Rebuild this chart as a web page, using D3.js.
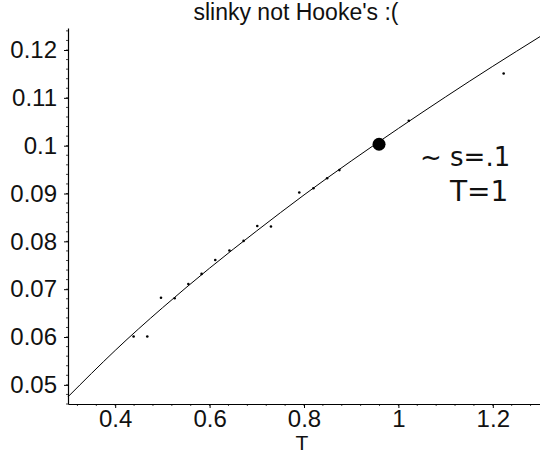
<!DOCTYPE html>
<html>
<head>
<meta charset="utf-8">
<script src="https://cdn.jsdelivr.net/npm/d3@7"></script>
<style>
  body { margin: 0; background: #fff; }
  text { font-family: "Liberation Sans", Arial, sans-serif; fill: #111; }
</style>
</head>
<body>
<div id="main"></div>
<script>
var ctx = {
    w: 540,
    h: 456,
    left: 68,
    right: 540,
    top: 28,
    bottom: 404
};

// measured points (T, s)
var pointT = [0.439, 0.468, 0.497, 0.526, 0.555, 0.583, 0.612, 0.642, 0.672, 0.701, 0.730,
              0.790, 0.820, 0.849, 0.875, 1.022, 1.223];
var pointS = [0.0601, 0.0601, 0.0682, 0.0681, 0.0711, 0.0732, 0.0761, 0.0781, 0.0801, 0.0832, 0.0831,
              0.0902, 0.0911, 0.0932, 0.0949, 0.1052, 0.1151];

// fitted curve
var curveT = [0.3, 0.4, 0.5, 0.6, 0.7, 0.8, 0.9, 1.0, 1.1, 1.2, 1.3];
var curveS = [0.0475, 0.0572, 0.0661, 0.0744, 0.0822, 0.0897, 0.0968, 0.1036, 0.1102, 0.1166, 0.1228];

// highlighted point
var markT = [0.959];
var markS = [0.1003];

var xTicks = [0.4, 0.6, 0.8, 1, 1.2];
var yTicks = [0.05, 0.06, 0.07, 0.08, 0.09, 0.1, 0.11, 0.12];

var svg = d3.select("#main").append("svg")
    .attr("width", ctx.w)
    .attr("height", ctx.h);

var x = d3.scaleLinear().domain([0.3, 1.3]).range([ctx.left, ctx.right]);
var y = d3.scaleLinear().domain([0.046, 0.1246]).range([ctx.bottom, ctx.top]);

// title
svg.append("text")
    .attr("x", 296).attr("y", 20)
    .attr("text-anchor", "middle")
    .style("font-size", "23px")
    .text("slinky not Hooke's :(");

// minor ticks
var xMinor = d3.range(0.32, 1.3, 0.04);
svg.append("g").selectAll("line").data(xMinor).enter().append("line")
    .attr("x1", function(d){ return x(d); }).attr("x2", function(d){ return x(d); })
    .attr("y1", ctx.bottom).attr("y2", ctx.bottom + 2)
    .attr("stroke", "#444").attr("stroke-width", 1);
var yMinor = d3.range(0.046, 0.1246, 0.002);
svg.append("g").selectAll("line").data(yMinor).enter().append("line")
    .attr("y1", function(d){ return y(d); }).attr("y2", function(d){ return y(d); })
    .attr("x1", ctx.left - 2).attr("x2", ctx.left)
    .attr("stroke", "#444").attr("stroke-width", 1);

// axes
var xAxis = svg.append("g")
    .attr("transform", "translate(0," + ctx.bottom + ")")
    .call(d3.axisBottom(x).tickValues(xTicks).tickSize(4).tickSizeOuter(0)
          .tickFormat(function(d){ return String(d); }));
var yAxis = svg.append("g")
    .attr("transform", "translate(" + ctx.left + ",0)")
    .call(d3.axisLeft(y).tickValues(yTicks).tickSize(4).tickSizeOuter(0)
          .tickFormat(function(d){ return String(d); }));

xAxis.select(".domain").attr("stroke", "#000").attr("stroke-width", 1.2);
yAxis.select(".domain").attr("stroke", "#000").attr("stroke-width", 1.2);
xAxis.selectAll("text").style("font-size", "24px").style("font-family", "Liberation Sans, Arial, sans-serif")
    .attr("dy", "0.71em").attr("y", 6).attr("fill", "#111");
yAxis.selectAll("text").style("font-size", "24px").style("font-family", "Liberation Sans, Arial, sans-serif")
    .attr("x", -11).attr("fill", "#111");

// x label
svg.append("text")
    .attr("x", 302).attr("y", 450)
    .attr("text-anchor", "middle")
    .style("font-size", "21px")
    .text("T");

// curve
var curveData = curveT.map(function(t, i){ return {t: t, s: curveS[i]}; });
svg.append("path")
    .datum(curveData)
    .attr("fill", "none")
    .attr("stroke", "#000")
    .attr("stroke-width", 1)
    .attr("d", d3.line()
        .x(function(d){ return x(d.t); })
        .y(function(d){ return y(d.s); })
        .curve(d3.curveNatural));

// data points
var pts = pointT.map(function(t, i){ return {t: t, s: pointS[i]}; });
svg.append("g").selectAll("circle").data(pts).enter().append("circle")
    .attr("cx", function(d){ return x(d.t); })
    .attr("cy", function(d){ return y(d.s); })
    .attr("r", 1.3)
    .attr("fill", "#000");

// highlighted point
svg.append("g").selectAll("circle").data(markT).enter().append("circle")
    .attr("cx", function(d){ return x(d); })
    .attr("cy", function(d, i){ return y(markS[i]); })
    .attr("r", 6.5)
    .attr("fill", "#000");

// handwritten note
svg.append("text")
    .attr("x", 420).attr("y", 166)
    .style("font-size", "26px")
    .style("font-family", "DejaVu Sans, sans-serif")
    .text("~ s=.1");
svg.append("text")
    .attr("x", 450).attr("y", 201)
    .style("font-size", "28px")
    .style("font-family", "DejaVu Sans, sans-serif")
    .text("T=1");
</script>
</body>
</html>
